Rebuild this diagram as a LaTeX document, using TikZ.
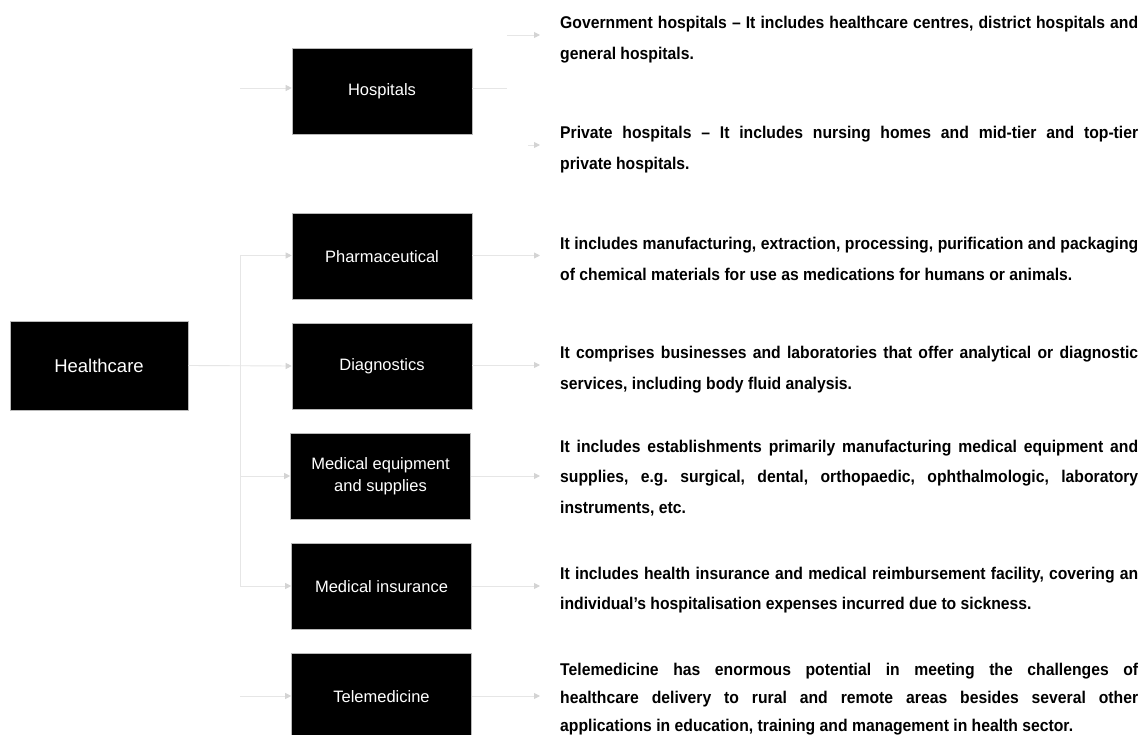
\documentclass[tikz,border=0pt]{standalone}
\usepackage{fontspec}
\setmainfont{Liberation Sans}
\newfontfamily\descfont[FakeStretch=0.925]{Liberation Sans Bold}
\usepackage{tikz}
\usetikzlibrary{positioning,arrows.meta}
\usepackage{xcolor}
\definecolor{linkgray}{HTML}{E6E6E6}
\definecolor{tipgray}{HTML}{D4D4D4}

\begin{document}
\begin{tikzpicture}[x=1pt,y=-1pt,
  box/.style={draw=gray!55, line width=0.6pt, fill=black, text=white,
    minimum width=180pt, minimum height=86pt, align=center, inner sep=2pt,
    font=\fontsize{16.5}{22}\selectfont},
  desc/.style={anchor=base west, inner sep=0pt, text width=578pt, align=justify,
    font=\descfont\frenchspacing\fontsize{17}{30.5}\selectfont},
  link/.style={draw=linkgray, line width=0.9pt},
  arr/.style={link, -{Triangle[length=6pt,width=6pt,color=tipgray]}}]
\fill[white] (0,0) rectangle (1141,735);
\useasboundingbox (0,0) rectangle (1141,735);

% root
\node[box, minimum width=178pt, minimum height=89pt,
  font=\fontsize{18.5}{22}\selectfont] (health) at (99,365.5) {Healthcare};

% sectors
\node[box] (hosp) at (382,91) {Hospitals};
\node[box] (pharma) at (382,256.5) {Pharmaceutical};
\node[box] (diag) at (382,366) {Diagnostics};
\node[box] (equip) at (380.5,476) {Medical equipment\\and supplies};
\node[box] (insur) at (381.5,586.5) {Medical insurance};
\node[box] (tele) at (381.5,696.5) {Telemedicine};

% descriptions
\node[desc] (gov) at (560,29) {Government hospitals – It includes healthcare centres, district hospitals and\linebreak general hospitals.};
\node[desc] (priv) at (560,139) {Private hospitals – It includes nursing homes and mid-tier and top-tier\linebreak private hospitals.};
\node[desc] (pharmaTxt) at (560,250) {It includes manufacturing, extraction, processing, purification and packaging\linebreak of chemical materials for use as medications for humans or animals.};
\node[desc] (diagTxt) at (560,359) {It comprises businesses and laboratories that offer analytical or diagnostic\linebreak services, including body fluid analysis.};
\node[desc] (equipTxt) at (560,452) {It includes establishments primarily manufacturing medical equipment and\linebreak supplies, e.g. surgical, dental, orthopaedic, ophthalmologic, laboratory\linebreak instruments, etc.};
\node[desc] (insurTxt) at (560,579) {It includes health insurance and medical reimbursement facility, covering an\linebreak individual’s hospitalisation expenses incurred due to sickness.};
\node[desc, font=\descfont\frenchspacing\fontsize{17}{28}\selectfont] (teleTxt) at (560,675) {Telemedicine has enormous potential in meeting the challenges of\linebreak healthcare delivery to rural and remote areas besides several other\linebreak applications in education, training and management in health sector.};

% left connectors
\coordinate (tHosp) at (240,88);
\coordinate (tPharma) at (240,255.5);
\coordinate (tEquip) at (240,476);
\coordinate (tInsur) at (240,586);
\coordinate (tTele) at (240,696);
\draw[link] (tPharma) -- (tInsur);
\draw[arr] (health.east) -- (diag.west);
\draw[arr] (tHosp) -- (tHosp -| hosp.west);
\draw[arr] (tPharma) -- (tPharma -| pharma.west);
\draw[arr] (tEquip) -- (equip.west);
\draw[arr] (tInsur) -- (tInsur -| insur.west);
\draw[arr] (tTele) -- (tTele -| tele.west);

% right connectors
\coordinate (hSplit) at (507,88);
\coordinate (sGov) at (507,35);
\coordinate (eGov) at (540,35);
\coordinate (sPriv) at (528,145);
\coordinate (ePriv) at (540,145);
\coordinate (ePharma) at (540,255.5);
\coordinate (eDiag) at (540,365);
\coordinate (eEquip) at (540,476);
\coordinate (eInsur) at (540,586);
\coordinate (eTele) at (540,696);
\draw[link] (hosp.east |- hSplit) -- (hSplit);
\draw[arr] (sGov) -- (eGov);
\draw[arr] (sPriv) -- (ePriv);
\draw[arr] (pharma.east |- ePharma) -- (ePharma);
\draw[arr] (diag.east |- eDiag) -- (eDiag);
\draw[arr] (equip.east) -- (eEquip);
\draw[arr] (insur.east |- eInsur) -- (eInsur);
\draw[arr] (tele.east |- eTele) -- (eTele);
\end{tikzpicture}
\end{document}
